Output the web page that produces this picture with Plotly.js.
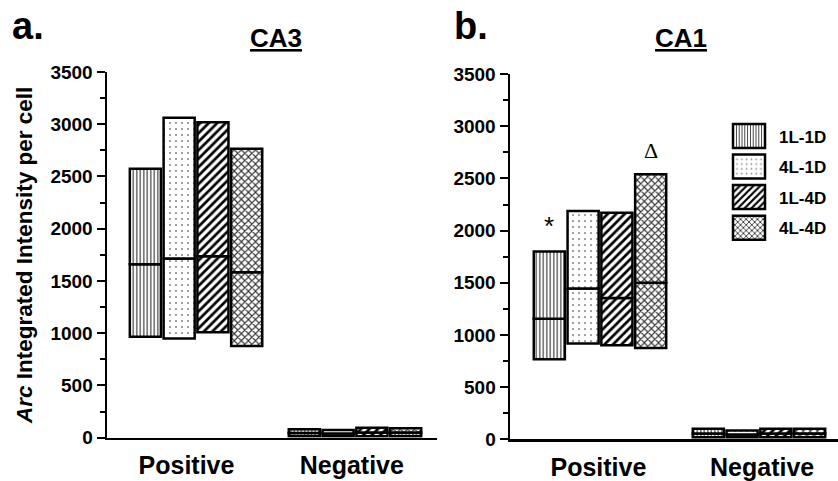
<!DOCTYPE html>
<html>
<head>
<meta charset="utf-8">
<script src="https://cdn.plot.ly/plotly-3.0.1.min.js"></script>
<style>html,body{margin:0;padding:0;background:#fff;}#chart{width:838px;height:481px;}</style>
</head>
<body>
<div id="chart"></div>
<script>
// ---- data ----
const categories = ['Positive', 'Negative'];
const series = ['1L-1D', '4L-1D', '1L-4D', '4L-4D'];

// CA3 (panel a): min / median / max per series
const ca3PosMin = [966, 950, 1010, 877];
const ca3PosMed = [1661, 1715, 1737, 1584];
const ca3PosMax = [2575, 3063, 3020, 2765];
const ca3NegMin = [15, 15, 15, 15];
const ca3NegMed = [45, 40, 50, 50];
const ca3NegMax = [80, 75, 95, 90];

// CA1 (panel b)
const ca1PosMin = [768, 918, 902, 874];
const ca1PosMed = [1154, 1445, 1355, 1499];
const ca1PosMax = [1799, 2188, 2172, 2541];
const ca1NegMin = [20, 20, 20, 20];
const ca1NegMed = [55, 45, 55, 55];
const ca1NegMax = [100, 85, 100, 100];

const yTickVals = [0, 500, 1000, 1500, 2000, 2500, 3000, 3500];

// ---- styles ----
const FONT = 'Arial, "Liberation Sans", sans-serif';
const patterns = [
  {shape: '|', fgcolor: '#222', bgcolor: '#fff', size: 3.5, solidity: 0.3},
  {shape: '.', fgcolor: '#888', bgcolor: '#fff', size: 6, solidity: 0.1},
  {shape: '/', fgcolor: '#000', bgcolor: '#fff', size: 6, solidity: 0.45},
  {shape: 'x', fgcolor: '#333', bgcolor: '#fff', size: 5, solidity: 0.4}
];

const xpos = categories.map((c, i) => i);
const traces = [];
function addPanel(xa, ya, posMin, posMed, posMax, negMin, negMed, negMax, legend) {
  series.forEach((s, i) => {
    const mk = {color: '#fff', pattern: patterns[i], line: {color: '#000', width: 2.5}};
    traces.push({
      type: 'bar', name: s, xaxis: xa, yaxis: ya, x: xpos,
      base: [posMin[i], negMin[i]],
      y: [posMed[i] - posMin[i], negMed[i] - negMin[i]],
      offsetgroup: s, legendgroup: s, showlegend: legend,
      marker: mk, hoverinfo: 'skip'
    });
    traces.push({
      type: 'bar', name: s, xaxis: xa, yaxis: ya, x: xpos,
      base: [posMed[i], negMed[i]],
      y: [posMax[i] - posMed[i], negMax[i] - negMed[i]],
      offsetgroup: s, legendgroup: s, showlegend: false,
      marker: mk, hoverinfo: 'skip'
    });
  });
}
addPanel('x', 'y', ca3PosMin, ca3PosMed, ca3PosMax, ca3NegMin, ca3NegMed, ca3NegMax, true);
addPanel('x2', 'y2', ca1PosMin, ca1PosMed, ca1PosMax, ca1NegMin, ca1NegMed, ca1NegMax, false);

function yAxis(domain, title) {
  const ax = {
    domain: domain, range: [0, 3500], autorange: false,
    tickvals: yTickVals, ticks: 'outside', ticklen: 8, tickwidth: 2, tickcolor: '#000',
    minor: {dtick: 250, tick0: 0, ticks: 'outside', ticklen: 5, tickwidth: 2, tickcolor: '#000'},
    showline: true, linewidth: 2.5, linecolor: '#000', showgrid: false, zeroline: false,
    tickfont: {family: FONT, size: 19, color: '#000', weight: 'bold'}, fixedrange: true
  };
  if (title) ax.title = {text: title, standoff: 12, font: {family: FONT, size: 22.5, color: '#000', weight: 'bold'}};
  return ax;
}
function xAxis(domain, range, anchor, tv) {
  return {
    domain: domain, range: range, autorange: false, anchor: anchor,
    tickvals: tv, ticktext: categories, ticks: '', ticklabelstandoff: 4,
    showline: true, linewidth: 2.5, linecolor: '#000', showgrid: false, zeroline: false,
    tickfont: {family: FONT, size: 25, color: '#000', weight: 'bold'}, fixedrange: true
  };
}

const layout = {
  width: 838, height: 481,
  margin: {l: 0, r: 0, t: 0, b: 0},
  paper_bgcolor: '#fff', plot_bgcolor: 'rgba(0,0,0,0)',
  barmode: 'group', bargap: 0.15, bargroupgap: 0.08,
  showlegend: true,
  legend: {
    x: 0.858, y: 0.754, xanchor: 'left', yanchor: 'top',
    font: {family: FONT, size: 17, color: '#000', weight: 'bold'},
    traceorder: 'grouped', tracegroupgap: 5.5, itemwidth: 50, bgcolor: 'rgba(0,0,0,0)'
  },
  xaxis: xAxis([0.1277, 0.5215], [-0.56, 1.516], 'y', [-0.06, 0.98]),
  yaxis: yAxis([0.09, 0.8503], '<i>Arc</i> Integrated Intensity per cell'),
  xaxis2: xAxis([0.6086, 1.0], [-0.566, 1.497], 'y2', [-0.01, 1.02]),
  yaxis2: Object.assign(yAxis([0.0867, 0.846], null), {anchor: 'x2'}),
  annotations: [
    {text: 'a.', xref: 'paper', yref: 'paper', x: 10 / 838, y: 0.945, xanchor: 'left', yanchor: 'middle', showarrow: false,
     font: {family: FONT, size: 38, color: '#000', weight: 'bold'}},
    {text: 'b.', xref: 'paper', yref: 'paper', x: 452 / 838, y: 0.945, xanchor: 'left', yanchor: 'middle', showarrow: false,
     font: {family: FONT, size: 38, color: '#000', weight: 'bold'}},
    {text: '<u>CA3</u>', xref: 'paper', yref: 'paper', x: 276 / 838, y: 0.92, xanchor: 'center', yanchor: 'middle', showarrow: false,
     font: {family: FONT, size: 26, color: '#000', weight: 'bold'}},
    {text: '<u>CA1</u>', xref: 'paper', yref: 'paper', x: 681 / 838, y: 0.92, xanchor: 'center', yanchor: 'middle', showarrow: false,
     font: {family: FONT, size: 26, color: '#000', weight: 'bold'}},
    {text: '*', xref: 'x2', yref: 'y2', x: -0.318, y: 2040, xanchor: 'center', yanchor: 'middle', showarrow: false,
     font: {family: FONT, size: 26, color: '#000'}},
    {text: 'Δ', xref: 'x2', yref: 'y2', x: 0.318, y: 2770, xanchor: 'center', yanchor: 'middle', showarrow: false,
     font: {family: '"Liberation Serif", "DejaVu Serif", serif', size: 22, color: '#000'}}
  ]
};

Plotly.newPlot('chart', traces, layout, {staticPlot: true, displayModeBar: false}).then(gd => {
  gd.querySelectorAll('.legend .legendpoints path').forEach(p => {
    p.setAttribute('d', 'M16,12H-16V-12H16Z');
  });
});
</script>
</body>
</html>
